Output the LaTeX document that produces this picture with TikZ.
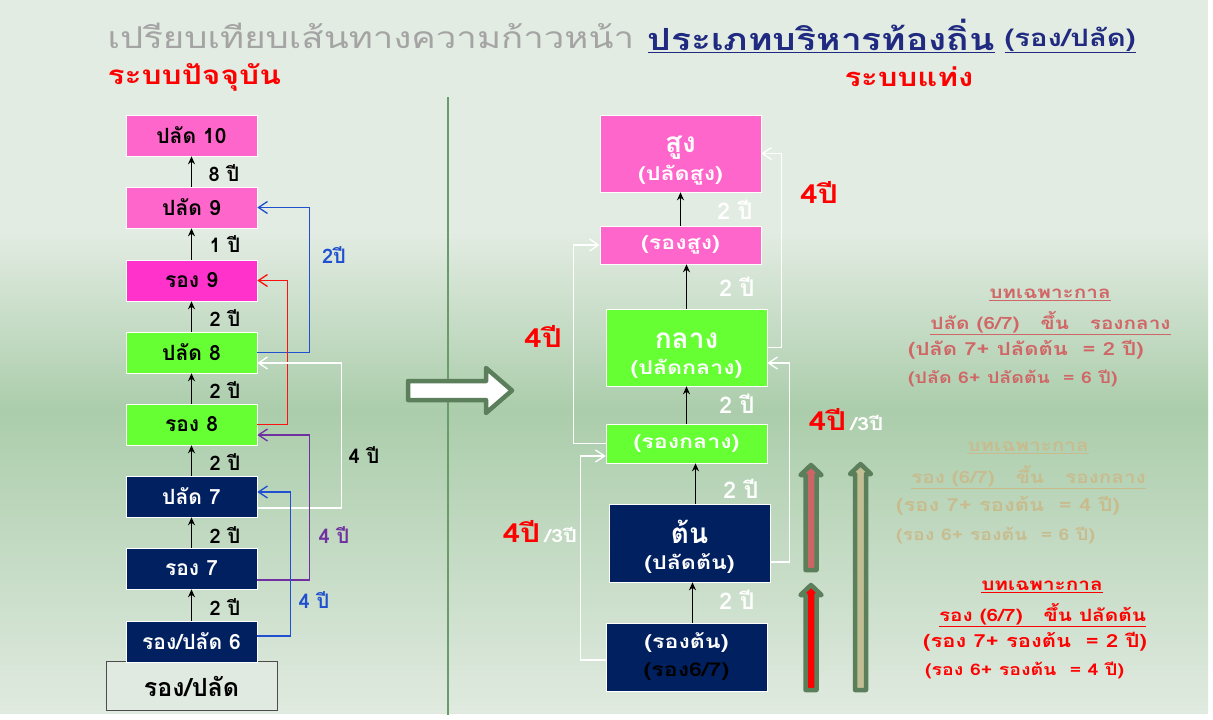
\documentclass[tikz,border=0pt]{standalone}
\usepackage{fontspec}
\newfontfamily\thai[Script=Thai]{Loma}
\newfontfamily\thaiw[Script=Thai, FakeStretch=1.22]{Loma}
\usetikzlibrary{arrows.meta}
\definecolor{bgtop}{HTML}{E3ECE3}
\definecolor{bgmid}{HTML}{ABCDAB}
\definecolor{bgbot}{HTML}{E0EAE0}
\definecolor{pinkbox}{HTML}{FF66CC}
\definecolor{magbox}{HTML}{FF33CC}
\definecolor{greenbox}{HTML}{66FF33}
\definecolor{navybox}{HTML}{002060}
\definecolor{blueln}{HTML}{2050D0}
\definecolor{redln}{HTML}{FF1010}
\definecolor{purpleln}{HTML}{7030A0}
\definecolor{dkgreen}{HTML}{5A7F5A}
\definecolor{divgreen}{HTML}{6B9B6B}
\definecolor{rosy}{HTML}{CC6666}
\definecolor{rosytxt}{HTML}{D06666}
\definecolor{tan}{HTML}{C0BE92}
\definecolor{tantxt}{HTML}{C8BC8E}
\definecolor{titlegray}{HTML}{A4A4A4}
\definecolor{titlenavy}{HTML}{1F2A80}
\newcommand\subyr{\color{white}\thaiw\bfseries\fontsize{18}{20}\selectfont}
\newcommand\bigword{\thai\bfseries\fontsize{28}{30}\selectfont\rule{0pt}{31pt}}
\tikzset{
  % boxes of the present ladder
  oldbox/.style = {rectangle, draw=white, line width=0.6pt, minimum width=131, minimum height=41,
    inner sep=0pt, font=\thai\bfseries\fontsize{21}{23}\selectfont},
  old_P/.style = {oldbox, fill=pinkbox},
  old_M/.style = {oldbox, fill=magbox},
  old_G/.style = {oldbox, fill=greenbox},
  old_N/.style = {oldbox, fill=navybox, text=white},
  % boxes of the new ladder
  newbox/.style = {rectangle, draw=white, line width=0.6pt, minimum width=161, inner sep=0pt,
    text=white, align=center, font=\thaiw\bfseries\fontsize{19}{21}\selectfont},
  up_arr/.style = {-{Stealth[length=8pt,width=7pt]}, line width=1.5pt, black},
  side_ln/.style = {-{Straight Barb[length=9pt,width=12pt]}, line width=1.3pt},
  lbl_yr/.style = {font=\thai\bfseries\fontsize{20}{22}\selectfont},
  lbl_wt/.style = {text=white, font=\thai\bfseries\fontsize{23}{25}\selectfont},
  lbl_red/.style = {text=red, font=\thaiw\bfseries\fontsize{26}{28}\selectfont},
  blockarr/.style = {draw=dkgreen, line width=4.5pt, line join=round},
  note/.style = {font=\thaiw\bfseries\fontsize{17}{19}\selectfont, inner sep=0pt},
  note_m/.style = {font=\thaiw\bfseries\fontsize{18}{20}\selectfont, inner sep=0pt},
  note_s/.style = {font=\thaiw\bfseries\fontsize{16}{18}\selectfont, inner sep=0pt}
}
\begin{document}
\begin{tikzpicture}[x=1pt,y=-1pt]
  \useasboundingbox (0,0) rectangle (1213,720);
  % background
  \fill[white] (0,0) rectangle (1213,720);
  \fill[bgtop] (0,0) rectangle (1208,230);
  \shade[top color=bgtop, bottom color=bgmid] (0,230) rectangle (1208,410);
  \shade[top color=bgmid, bottom color=bgbot] (0,410) rectangle (1208,713);
  \draw[divgreen, line width=1.5pt] (448,97) -- (448,715);

  % titles
  \node[anchor=west, text=titlegray, font=\thaiw\fontsize{30}{32}\selectfont] (title) at (104,36) {เปรียบเทียบเส้นทางความก้าวหน้า};
  \node[anchor=west, text=titlenavy, font=\thaiw\bfseries\fontsize{30.5}{33}\selectfont] (title2) at (644,36) {\underline{ประเภทบริหารท้องถิ่น}};
  \node[anchor=west, text=titlenavy, font=\thaiw\bfseries\fontsize{24}{26}\selectfont] (title3) at (1001,40) {\underline{(รอง/ปลัด)}};
  \node[anchor=west, text=red, font=\thaiw\bfseries\fontsize{26}{28}\selectfont] (nowsys) at (104,77) {ระบบปัจจุบัน};
  \node[anchor=west, text=red, font=\thaiw\bfseries\fontsize{25.5}{28}\selectfont] (newsys) at (841,77) {ระบบแท่ง};

  % present ladder
  \node[oldbox, fill=bgbot, draw=black!70, line width=1pt, minimum width=171, minimum height=49,
    font=\thai\bfseries\fontsize{25}{27}\selectfont] (base) at (191.5,686) {รอง/ปลัด};
  \node[old_P] (p10) at (191.5,135.5) {ปลัด 10};
  \node[old_P] (p9) at (191.5,207.5) {ปลัด 9};
  \node[old_M] (r9) at (191.5,280.5) {รอง 9};
  \node[old_G] (p8) at (191.5,352.5) {ปลัด 8};
  \node[old_G] (r8) at (191.5,424.5) {รอง 8};
  \node[old_N] (p7) at (191.5,496.5) {ปลัด 7};
  \node[old_N] (r7) at (191.5,568.5) {รอง 7};
  \node[old_N] (r6) at (191.5,641.5) {รอง/ปลัด 6};

  \draw[up_arr] (p9) -- (p10);
  \draw[up_arr] (r9) -- (p9);
  \draw[up_arr] (p8) -- (r9);
  \draw[up_arr] (r8) -- (p8);
  \draw[up_arr] (p7) -- (r8);
  \draw[up_arr] (r7) -- (p7);
  \draw[up_arr] (r6) -- (r7);

  \node[lbl_yr] (y1) at (224,173) {8 ปี};
  \node[lbl_yr] (y2) at (225,244) {1 ปี};
  \node[lbl_yr] (y3) at (225,318) {2 ปี};
  \node[lbl_yr] (y4) at (225,390) {2 ปี};
  \node[lbl_yr] (y5) at (225,462) {2 ปี};
  \node[lbl_yr] (y6) at (225,535) {2 ปี};
  \node[lbl_yr] (y7) at (225,607) {2 ปี};

  % shortcuts of the present ladder
  \draw[side_ln, blueln] (p8.east) -- ++(52,0) |- (p9.east);
  \draw[side_ln, redln] (r8.east) -- ++(30,0) |- (r9.east);
  \draw[side_ln, white] ([yshift=-11.5pt]p7.east) -- ++(84,0) |- ([yshift=-10.5pt]p8.east);
  \draw[side_ln, purpleln] ([yshift=-11.5pt]r7.east) -- ++(52,0) |- ([yshift=-10.5pt]r8.east);
  \draw[side_ln, blueln] ([yshift=5.5pt]r6.east) -- ++(33,0) |- ([yshift=4.5pt]p7.east);
  \node[lbl_yr, text=blueln] (l1) at (334,255) {2ปี};
  \node[lbl_yr] (l2) at (364,455) {4 ปี};
  \node[lbl_yr, text=purpleln] (l3) at (334,535) {4 ปี};
  \node[lbl_yr, text=blueln] (l4) at (314,600) {4 ปี};

  % big arrow
  \draw[blockarr, fill=white] (408,381) -- (486,381) -- (486,368) -- (512,390.5)
    -- (486,413) -- (486,400) -- (408,400) -- cycle;

  % new ladder
  \node[newbox, fill=pinkbox, minimum height=77] (sung) at (680.5,153.5)
    {{\bigword สูง}\\[5pt](ปลัดสูง)};
  \node[newbox, fill=pinkbox, minimum height=38] (rsung) at (680.5,245) {(รองสูง)};
  \node[newbox, fill=greenbox, minimum height=77] (klang) at (686.5,347.5)
    {{\bigword กลาง}\\[5pt](ปลัดกลาง)};
  \node[newbox, fill=greenbox, minimum height=39] (rklang) at (686.5,443.5) {(รองกลาง)};
  \node[newbox, fill=navybox, minimum height=78] (ton) at (689.5,543)
    {{\bigword ต้น}\\[5pt](ปลัดต้น)};
  \node[newbox, fill=navybox, minimum height=68] (rton) at (686.5,657)
    {(รองต้น)\\[7pt]\textcolor{black}{(รอง6/7)}};

  \draw[up_arr] (rsung.north -| sung.south) -- (sung.south);
  \draw[up_arr] (klang.north) -- (klang.north |- rsung.south);
  \draw[up_arr] (rklang.north) -- (klang.south);
  \draw[up_arr] ([xshift=6pt]ton.north) -- ([xshift=6pt]ton.north |- rklang.south);
  \draw[up_arr] ([xshift=6pt]rton.north) -- ([xshift=6pt]rton.north |- ton.south);

  \node[lbl_wt] (w1) at (735,210) {2 ปี};
  \node[lbl_wt] (w2) at (737,287) {2 ปี};
  \node[lbl_wt] (w3) at (737,404) {2 ปี};
  \node[lbl_wt] (w4) at (741,489) {2 ปี};
  \node[lbl_wt] (w5) at (737,600) {2 ปี};

  % shortcuts of the new ladder
  \draw[side_ln, white] (klang.east) -- ++(14,0) |- (sung.east);
  \draw[side_ln, white] (rklang.west) -- ++(-32,0) |- (rsung.west);
  \draw[side_ln, white] ([yshift=-19pt]ton.east) -- ++(19,0) |- ([yshift=-15.5pt]klang.east);
  \draw[side_ln, white] ([yshift=-3pt]rton.west) -- ++(-25,0) |- ([yshift=-12.5pt]rklang.west);
  \node[lbl_red] (r1) at (819,192) {4ปี};
  \node[lbl_red] (r2) at (543,336) {4ปี};
  \node[lbl_red, anchor=west] (r3) at (805,420) {4ปี\,{\subyr /3ปี}};
  \node[lbl_red, anchor=west] (r4) at (499,532) {4ปี\,{\subyr /3ปี}};

  % arrows of the transitional rules
  \foreach \cx/\ty/\by/\col in {811/465/570/rosy, 811/585/690/red, 860.5/464/690/tan}
    \draw[blockarr, fill=\col] (\cx-5.5,\by) -- (\cx-5.5,\ty+10) -- (\cx-10.5,\ty+10) -- (\cx,\ty)
      -- (\cx+10.5,\ty+10) -- (\cx+5.5,\ty+10) -- (\cx+5.5,\by) -- cycle;

  % transitional rules
  \node[note, text=rosytxt] (t1a) at (1050,295) {\underline{บทเฉพาะกาล}};
  \node[note, text=rosytxt] (t1b) at (1050.5,323) {\underline{ปลัด (6/7)~~~ขึ้น~~~รองกลาง}};
  \node[note_m, text=rosytxt, anchor=west] (t1c) at (908,350) {(ปลัด 7+ ปลัดต้น~~= 2 ปี)};
  \node[note_s, text=rosytxt, anchor=west] (t1d) at (908,378) {(ปลัด 6+ ปลัดต้น~~= 6 ปี)};

  \node[note, text=tantxt] (t2a) at (1028,448) {\underline{บทเฉพาะกาล}};
  \node[note, text=tantxt] (t2b) at (1028.5,477) {\underline{รอง (6/7)~~~ขึ้น~~~รองกลาง}};
  \node[note_m, text=tantxt, anchor=west] (t2c) at (896,506) {(รอง 7+ รองต้น~~= 4 ปี)};
  \node[note_s, text=tantxt, anchor=west] (t2d) at (896,535) {(รอง 6+ รองต้น~~= 6 ปี)};

  \node[note, text=red] (t3a) at (1042,587) {\underline{บทเฉพาะกาล}};
  \node[note, text=red] (t3b) at (1042.5,615) {\underline{รอง (6/7)~~~ขึ้น~ปลัดต้น}};
  \node[note_m, text=red, anchor=west] (t3c) at (923,642) {(รอง 7+ รองต้น~~= 2 ปี)};
  \node[note_s, text=red, anchor=west] (t3d) at (925,670) {(รอง 6+ รองต้น~~= 4 ปี)};
\end{tikzpicture}
\end{document}
